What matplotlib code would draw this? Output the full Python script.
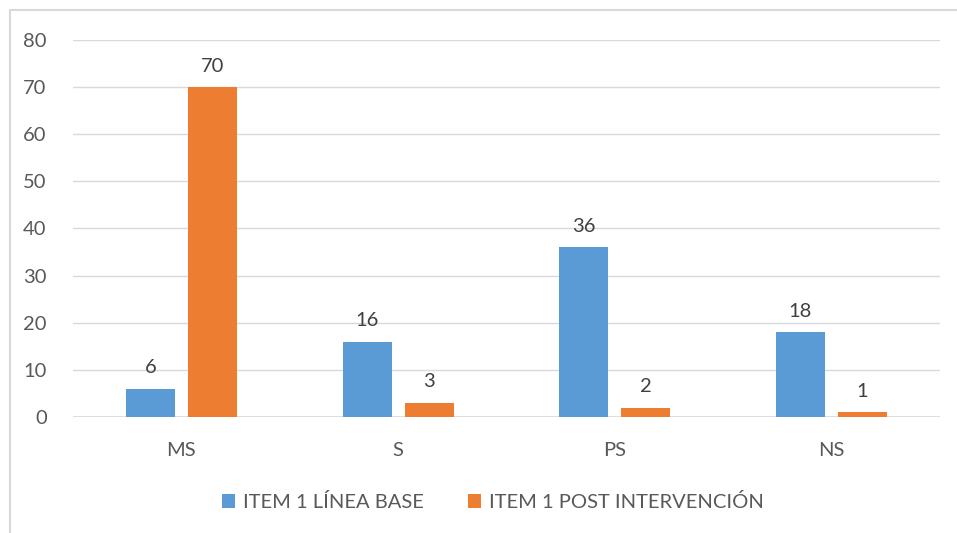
import numpy as np
import matplotlib.pyplot as plt
from matplotlib.patches import Rectangle

categories = ["MS", "S", "PS", "NS"]
linea_base = [6, 16, 36, 18]
post_intervencion = [70, 3, 2, 1]
series_names = ["ITEM 1 LÍNEA BASE", "ITEM 1 POST INTERVENCIÓN"]

plt.rcParams['font.family'] = ['Lato', 'DejaVu Sans']
txt = "#595959"
grid = "#d9d9d9"

fig = plt.figure(figsize=(9.57, 5.33), dpi=100)
ax = fig.add_axes([0.0763, 0.2176, 0.9057, 0.7074])

x = np.arange(len(categories))
w = 0.226
off = 0.143
b1 = ax.bar(x - off, linea_base, w, color="#5b9bd5", label=series_names[0], zorder=3)
b2 = ax.bar(x + off, post_intervencion, w, color="#ed7d31", label=series_names[1], zorder=3)
for bars in (b1, b2):
    ax.bar_label(bars, padding=9, fontsize=14.5, color="#404040")

ax.set_xlim(-0.5, 3.5)
ax.set_ylim(0, 80)
ax.set_yticks(range(0, 81, 10))
ax.set_xticks(x)
ax.set_xticklabels(categories)
ax.yaxis.grid(True, color=grid, linewidth=1, zorder=0)
for s in ax.spines.values():
    s.set_visible(False)
ax.axhline(0, color=grid, linewidth=1.2, zorder=2)
ax.tick_params(length=0, labelsize=14.5, colors=txt)
ax.tick_params(axis='y', pad=19)
ax.tick_params(axis='x', pad=18)

fig.legend(loc="center", bbox_to_anchor=(0.515, 0.058), ncol=2, frameon=False,
           fontsize=14.5, labelcolor=txt, handlelength=0.65, handleheight=0.65,
           columnspacing=2.2, handletextpad=0.4)

# outer chart frame
fig.patches.append(Rectangle((10 / 957, -0.1), 2, 1.1 - 10 / 533, transform=fig.transFigure,
                             fill=False, edgecolor=grid, linewidth=1.5))

fig.savefig("out.png", dpi=100)
